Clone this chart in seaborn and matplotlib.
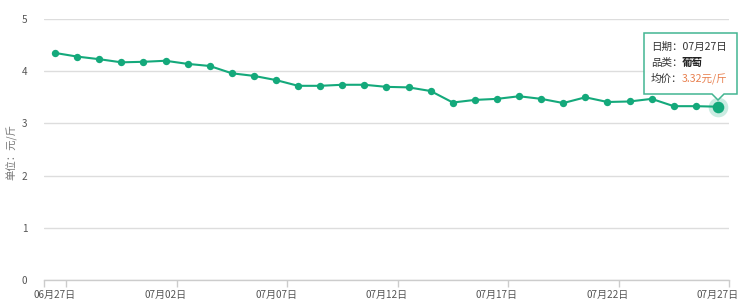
import matplotlib
matplotlib.use("Agg")
import matplotlib.pyplot as plt
import matplotlib.transforms as mtransforms
from matplotlib.patches import Polygon
import seaborn as sns
import pandas as pd
import numpy as np

# ---- data ----
dates = [d.strftime("%m月%d日") for d in pd.date_range("2023-06-27", "2023-07-27")]
prices = [4.35, 4.28, 4.23, 4.17, 4.18, 4.20, 4.14, 4.10, 3.96, 3.91,
          3.83, 3.72, 3.72, 3.74, 3.74, 3.70, 3.69, 3.62, 3.40, 3.45,
          3.47, 3.52, 3.47, 3.39, 3.50, 3.41, 3.42, 3.47, 3.33, 3.33, 3.32]
y_ticks = [0, 1, 2, 3, 4, 5]
product = "葡萄"
unit_label = "单位：元/斤"

GREEN = "#14a97b"
FONT = ["Noto Sans CJK SC", "DejaVu Sans"]

sns.set_theme(style="white")
plt.rcParams["font.family"] = FONT

W, H = 756, 302
fig = plt.figure(figsize=(W / 100, H / 100), dpi=100)
ax = fig.add_axes([44 / W, (H - 280) / H, (729 - 44) / W, (280 - 19) / H])

df = pd.DataFrame({"idx": np.arange(len(prices)), "price": prices, "date": dates})
sns.lineplot(data=df, x="idx", y="price", ax=ax, color=GREEN, linewidth=1.5,
             marker="o", markersize=5.3, markeredgewidth=0, zorder=3)
# highlighted last point
last = df.iloc[-1:]
sns.scatterplot(data=last, x="idx", y="price", ax=ax, s=200, color=GREEN,
                alpha=0.22, linewidth=0, zorder=4, legend=False)
sns.scatterplot(data=last, x="idx", y="price", ax=ax, s=70, color=GREEN,
                linewidth=0, zorder=5, legend=False)

ax.set_xlim(-0.5, len(prices) - 0.5)
ax.set_ylim(0, 5)
ax.set_yticks(y_ticks)
ax.set_yticklabels([str(t) for t in y_ticks])
ax.yaxis.grid(True, color="#dddddd", linewidth=1)
ax.set_axisbelow(True)

# x labels at points, ticks at band boundaries
lab_idx = list(range(0, len(prices), 5))
ax.set_xticks(lab_idx)
ax.set_xticklabels([dates[i] for i in lab_idx])
ax.set_xticks([-0.5] + [i + 0.5 for i in lab_idx], minor=True)
ax.tick_params(axis="x", which="major", length=0, pad=7, labelsize=7.2, labelcolor="#555555")
ax.tick_params(axis="x", which="minor", length=5, width=1, color="#cccccc", bottom=True)
ax.tick_params(axis="y", length=0, pad=12, labelsize=7.2, labelcolor="#555555")

for s in ["top", "right", "left"]:
    ax.spines[s].set_visible(False)
ax.spines["bottom"].set_color("#cccccc")
ax.spines["bottom"].set_linewidth(1)
ax.set_xlabel("")
ax.set_ylabel("")

fig.text(12 / W, 1 - 152 / H, unit_label, rotation=90, ha="center", va="center",
         fontsize=7.5, color="#777777")

# ---- tooltip (pixel coords, origin top-left) ----
px = mtransforms.Affine2D().scale(1 / W, -1 / H).translate(0, 1) + fig.transFigure
bx0, bx1, by0, by1 = 644, 737, 33, 94
tip_x, tip_y = 718, 100
outline = [(bx0, by0), (bx1, by0), (bx1, by1), (tip_x + 6, by1), (tip_x, tip_y),
           (tip_x - 6, by1), (bx0, by1)]
poly = Polygon(outline, closed=True, transform=px, facecolor="white",
               edgecolor="#3db38e", linewidth=1.1, zorder=10, alpha=0.97)
fig.add_artist(poly)

tx = 651
fig.text(tx / W, 1 - 47 / H, f"日期：{dates[-1]}", transform=fig.transFigure,
         fontsize=7.6, color="#333333", va="center", ha="left", zorder=11)
fig.text(tx / W, 1 - 63 / H, "品类：", fontsize=7.6, color="#333333",
         va="center", ha="left", zorder=11)
fig.text((tx + 31) / W, 1 - 63 / H, product, fontsize=7.6, color="#222222",
         fontweight="bold", va="center", ha="left", zorder=11)
fig.text(tx / W, 1 - 79 / H, "均价：", fontsize=7.6, color="#333333",
         va="center", ha="left", zorder=11)
fig.text((tx + 31) / W, 1 - 79 / H, f"{prices[-1]:.2f}元/斤", fontsize=7.6,
         color="#e8804f", va="center", ha="left", zorder=11)

fig.savefig("out.png", dpi=100)
